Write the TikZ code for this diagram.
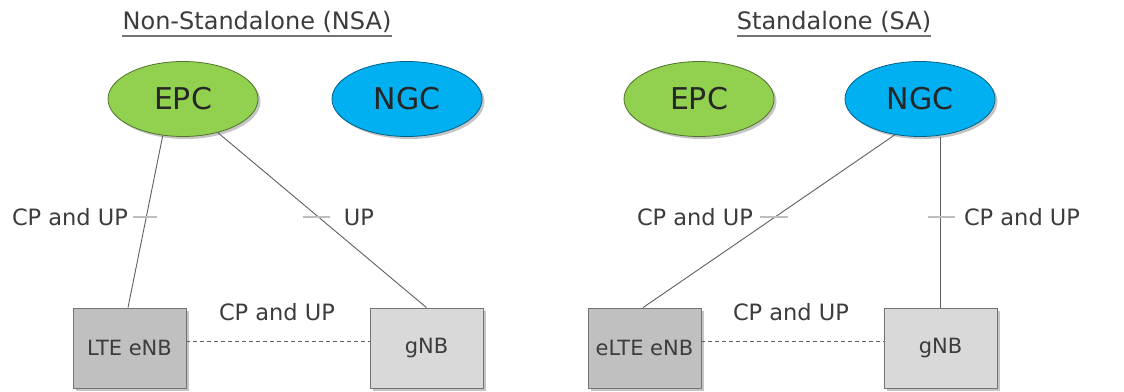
\documentclass[tikz,border=0pt]{standalone}
\usepackage{fontspec}
\setmainfont{DejaVu Sans}
\usetikzlibrary{shadows,shapes.geometric,calc}
\definecolor{epcgreen}{RGB}{146,208,80}
\definecolor{ngcblue}{RGB}{0,176,240}
\definecolor{boxdark}{RGB}{192,192,192}
\definecolor{boxlight}{RGB}{217,217,217}
\definecolor{txt}{RGB}{60,60,60}
\definecolor{conn}{RGB}{95,95,95}
\definecolor{tick}{RGB}{190,190,190}
\tikzset{
  core/.style={ellipse, minimum width=150pt, minimum height=75pt, inner sep=0pt,
    font=\fontsize{30}{34}\selectfont, text=black!85, line width=0.8pt,
    drop shadow={shadow xshift=2.5pt, shadow yshift=-2.5pt, opacity=0.45}},
  epc/.style={core, fill=epcgreen, draw=epcgreen!55!black},
  ngc/.style={core, fill=ngcblue, draw=ngcblue!55!black},
  ran/.style={rectangle, minimum width=113pt, minimum height=80pt, inner sep=0pt,
    font=\fontsize{21}{25}\selectfont, text=txt, draw=black!55, line width=0.8pt,
    drop shadow={shadow xshift=2.5pt, shadow yshift=-2.5pt, opacity=0.45}},
  randark/.style={ran, fill=boxdark},
  ranlight/.style={ran, fill=boxlight},
  lbl/.style={font=\fontsize{22.5}{26}\selectfont, text=txt, inner sep=0pt},
  ttl/.style={font=\fontsize{24}{28}\selectfont, text=txt, inner sep=0pt},
  link/.style={draw=conn, line width=0.9pt},
  xlink/.style={draw=conn, line width=0.9pt, dash pattern=on 4pt off 3pt},
  tickmark/.style={draw=tick, line width=2.5pt},
  uline/.style={draw=black!55, line width=1.5pt}
}
\begin{document}
\begin{tikzpicture}[x=1pt,y=-1pt]
\useasboundingbox[fill=white] (0,0) rectangle (1124,391);

% titles
\node[ttl] (t1) at (257,22) {Non-Standalone (NSA)};
\node[ttl] (t2) at (834,22) {Standalone (SA)};
\draw[uline] ([yshift=-3pt]t1.south west) -- ([yshift=-3pt]t1.south east);
\draw[uline] ([yshift=-3pt]t2.south west) -- ([yshift=-3pt]t2.south east);

% NSA
\node[epc] (epc1) at (183,99) {EPC};
\node[ngc] (ngc1) at (407,99) {NGC};
\node[randark] (lte) at (129.5,348) {LTE eNB};
\node[ranlight] (gnb1) at (426.5,348) {gNB};
\draw[link] (epc1.241) -- ([xshift=-1.5pt]lte.north);
\draw[link] (epc1.316) -- (gnb1.north);
\draw[xlink] ([yshift=7pt]lte.east) -- ([yshift=7pt]gnb1.west);
\node[lbl] (l1) at (70,217) {CP and UP};
\node[lbl] (l2) at (359,217) {UP};
\node[lbl] (l3) at (277,312) {CP and UP};
\draw[tickmark] (133,217) -- (157,217);
\draw[tickmark] (303,217) -- (330,217);

% SA
\node[epc] (epc2) at (699,99) {EPC};
\node[ngc] (ngc2) at (920,99) {NGC};
\node[randark] (elte) at (644.5,348) {eLTE eNB};
\node[ranlight] (gnb2) at (940.5,348) {gNB};
\draw[link] (ngc2.235) -- ([xshift=-1.5pt]elte.north);
\draw[link] (gnb2.north |- ngc2.south) -- (gnb2.north);
\draw[xlink] ([yshift=7pt]elte.east) -- ([yshift=7pt]gnb2.west);
\node[lbl] (r1) at (695,217) {CP and UP};
\node[lbl] (r2) at (1022,217) {CP and UP};
\node[lbl] (r3) at (791,312) {CP and UP};
\draw[tickmark] (760,217) -- (788,217);
\draw[tickmark] (928,217) -- (955,217);
\end{tikzpicture}
\end{document}
